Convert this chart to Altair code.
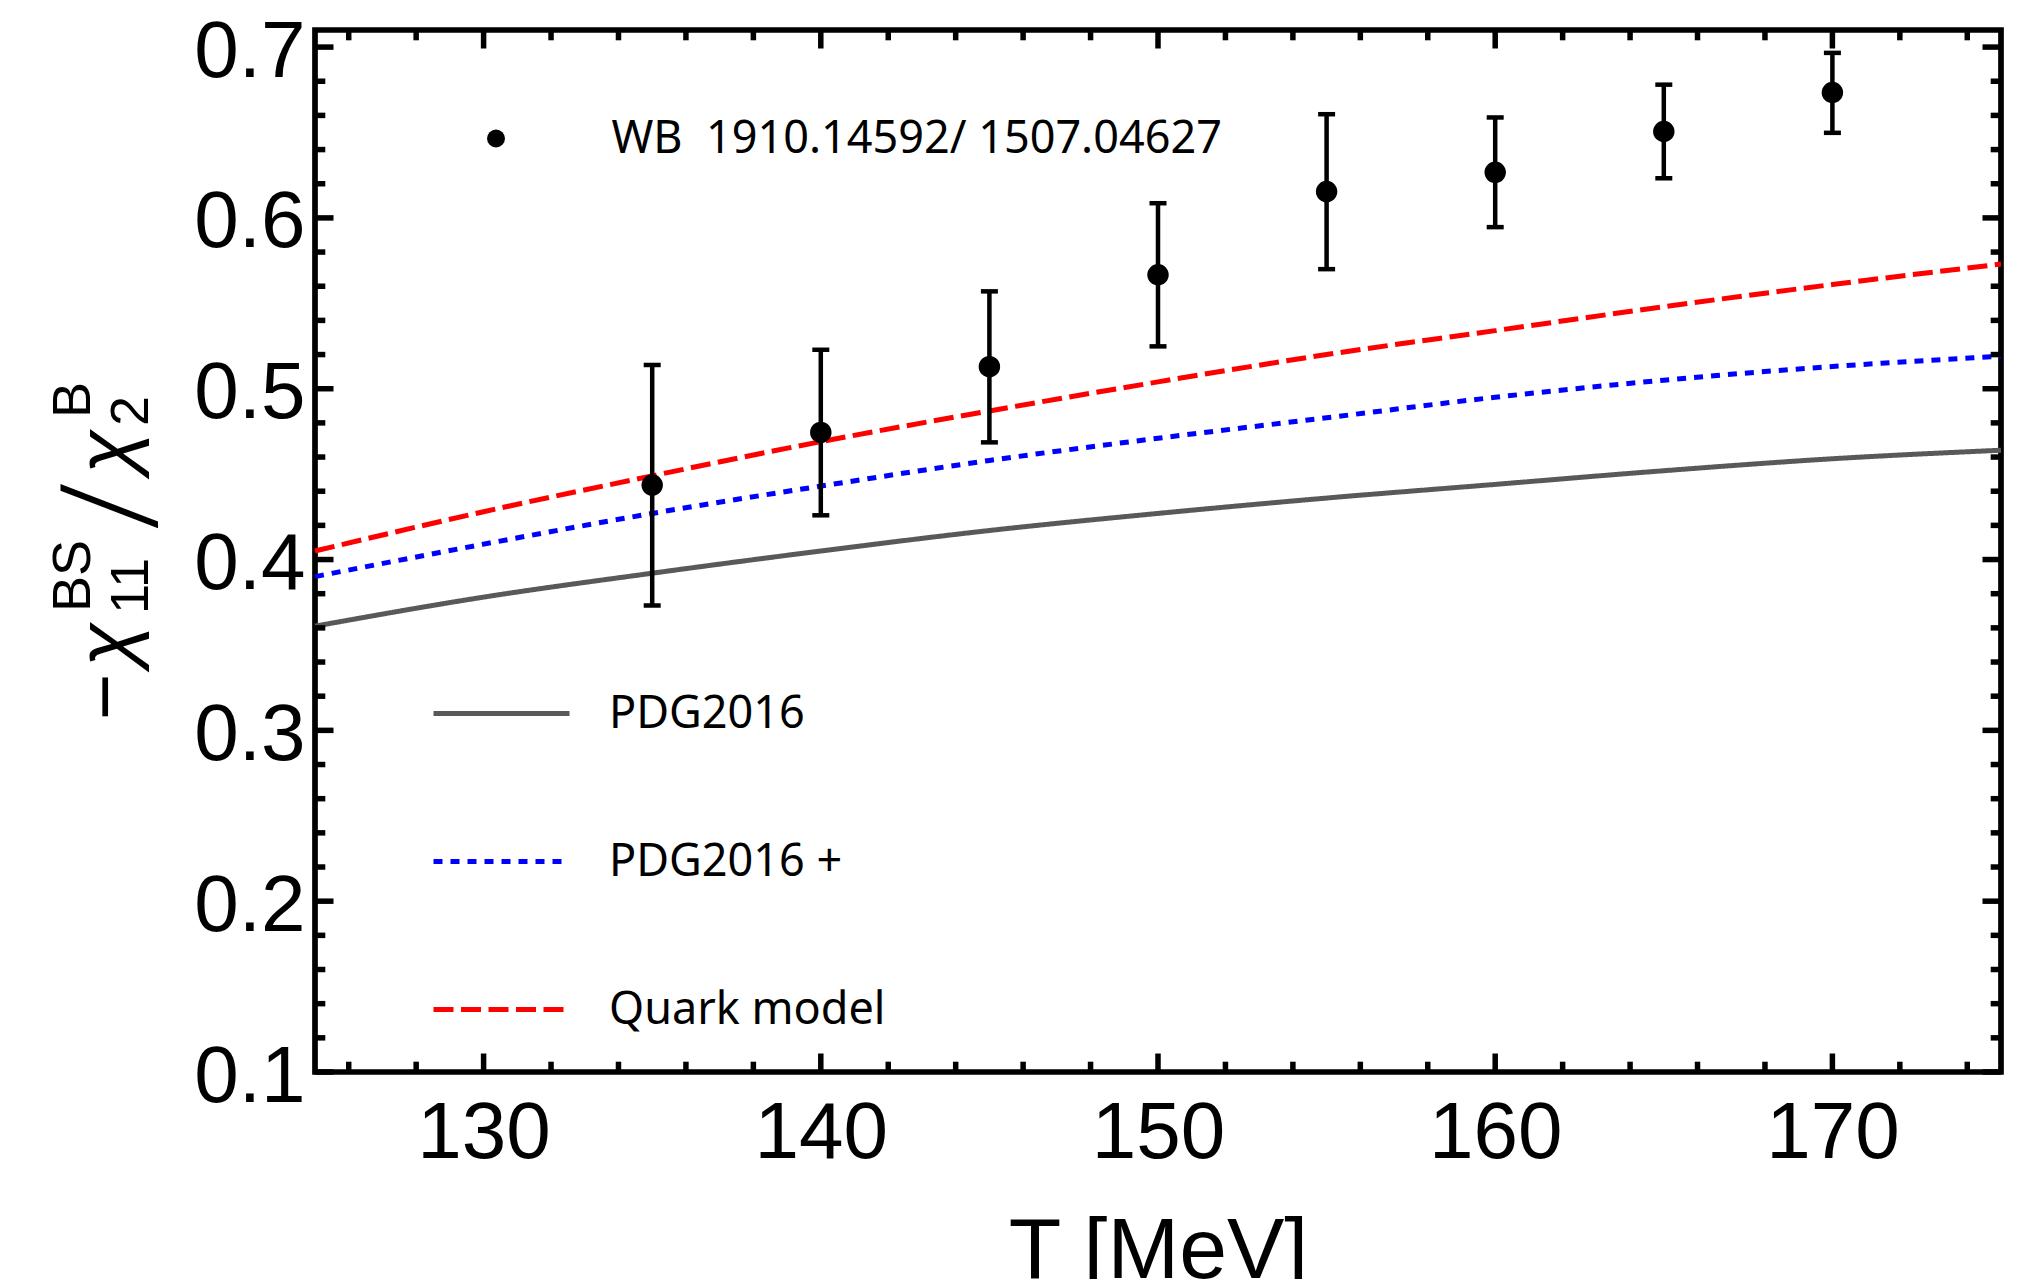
import altair as alt
import pandas as pd

# ---------------- data ----------------
T_model = [125, 130, 135, 140, 145, 150, 155, 160, 165, 170, 175]
pdg2016 = [0.361, 0.378, 0.392, 0.405, 0.417, 0.427, 0.436, 0.444, 0.452, 0.459, 0.464]
pdg2016_plus = [0.390, 0.409, 0.427, 0.443, 0.458, 0.471, 0.483, 0.495, 0.505, 0.513, 0.519]
quark_model = [0.405, 0.428, 0.449, 0.469, 0.487, 0.504, 0.520, 0.534, 0.548, 0.561, 0.573]

T_wb = [135, 140, 145, 150, 155, 160, 165, 170]
wb_val = [0.4436, 0.4744, 0.5129, 0.5667, 0.6154, 0.6267, 0.6506, 0.6734]
wb_hi = [0.5139, 0.5228, 0.5570, 0.6086, 0.6607, 0.6588, 0.6780, 0.6966]
wb_lo = [0.3731, 0.4259, 0.4686, 0.5248, 0.5700, 0.5946, 0.6232, 0.6498]

series_names = ["PDG2016", "PDG2016 +", "Quark model"]
wb_label = "WB\u00a0 1910.14592/ 1507.04627"

x_major = [130, 140, 150, 160, 170]
x_minor = [t for t in range(126, 176, 2) if t % 10 != 0]
y_major = [0.1, 0.2, 0.3, 0.4, 0.5, 0.6, 0.7]
y_minor = [round(0.1 + 0.02 * i, 2) for i in range(1, 31) if i % 5 != 0]

x_title = "T [MeV]"

# ---------------- styles / layout ----------------
series_colors = ["#595959", "#0000ff", "#ff0000"]
series_dash = [[1, 0], [9, 8], [20, 7.5]]
W, H = 1686, 1042
TICK_FONT = "Liberation Sans"
LEG_FONT = "Noto Sans"

df_lines = pd.DataFrame({
    "T": T_model * 3,
    "v": pdg2016 + pdg2016_plus + quark_model,
    "series": [series_names[0]] * len(T_model) + [series_names[1]] * len(T_model)
              + [series_names[2]] * len(T_model),
})
df_wb = pd.DataFrame({"T": T_wb, "v": wb_val, "lo": wb_lo, "hi": wb_hi,
                      "src": [wb_label] * len(T_wb)})
df_caps = pd.DataFrame({"T": T_wb + T_wb, "v": wb_lo + wb_hi})

x_scale = alt.Scale(domain=[125, 175], nice=False, zero=False)
y_scale = alt.Scale(domain=[0.1, 0.71], nice=False, zero=False)

x_axis = alt.Axis(values=x_major, format="d", labelFont=TICK_FONT, labelFontSize=80,
                  labelColor="black", labelBaseline="alphabetic", labelPadding=85,
                  labelFlush=False, labelOverlap=False,
                  ticks=False, tickSize=0, domain=False, grid=False,
                  title=x_title, titleFont=TICK_FONT, titleFontSize=86,
                  titleFontWeight="normal", titleColor="black",
                  titleBaseline="alphabetic", titleY=205)
y_axis = alt.Axis(values=y_major, format=".1f", labelFont=TICK_FONT, labelFontSize=80,
                  labelColor="black", labelPadding=10, labelOffset=5,
                  labelFlush=False, labelOverlap=False,
                  ticks=False, tickSize=0, domain=False, grid=False, title=None)

X = alt.X("T:Q", scale=x_scale, axis=x_axis)
Y = alt.Y("v:Q", scale=y_scale, axis=y_axis)

line_legend = alt.Legend(title=None, orient="none", legendX=116, legendY=613,
                         symbolType="stroke", symbolSize=18496, symbolStrokeWidth=5,
                         labelFont=LEG_FONT, labelFontSize=45, labelColor="black",
                         labelOffset=37, labelLimit=1000, rowPadding=54, padding=0)
wb_legend = alt.Legend(title=None, orient="none", legendX=158.5, legendY=86,
                       symbolSize=324, symbolFillColor="black", symbolStrokeColor="black",
                       symbolOpacity=1, symbolStrokeWidth=0,
                       labelFont=LEG_FONT, labelFontSize=45, labelColor="black",
                       labelOffset=93, labelLimit=1000, padding=0)

lines = alt.Chart(df_lines).mark_line(strokeWidth=5, interpolate="monotone").encode(
    x=X, y=Y,
    color=alt.Color("series:N", scale=alt.Scale(domain=series_names, range=series_colors),
                    legend=line_legend),
    strokeDash=alt.StrokeDash("series:N", scale=alt.Scale(domain=series_names, range=series_dash),
                              legend=line_legend),
)

errbars = alt.Chart(df_wb).mark_rule(strokeWidth=4.5, color="black").encode(
    x=X, y=alt.Y("lo:Q", scale=y_scale, axis=y_axis), y2="hi:Q")
caps = alt.Chart(df_caps).mark_tick(orient="horizontal", thickness=4.5, size=17,
                                    color="black", opacity=1).encode(x=X, y=Y)
points = alt.Chart(df_wb).mark_point(filled=True, size=460, opacity=1, color="black").encode(
    x=X, y=Y,
    shape=alt.Shape("src:N", scale=alt.Scale(domain=[wb_label], range=["circle"]),
                    legend=wb_legend))

# inward frame ticks
TW = 5.5
MAJ, MIN = 18.5, 10.3
dxM = pd.DataFrame({"T": x_major})
dxm = pd.DataFrame({"T": x_minor})
dyM = pd.DataFrame({"v": y_major})
dym = pd.DataFrame({"v": y_minor})
tick_layers = []
for d, L in ((dxM, MAJ), (dxm, MIN)):
    tick_layers.append(alt.Chart(d).mark_rule(strokeWidth=TW, color="black").encode(
        x=X, y=alt.value(H), y2=alt.value(H - L)))
    tick_layers.append(alt.Chart(d).mark_rule(strokeWidth=TW, color="black").encode(
        x=X, y=alt.value(0), y2=alt.value(L)))
for d, L in ((dyM, MAJ), (dym, MIN)):
    tick_layers.append(alt.Chart(d).mark_rule(strokeWidth=TW, color="black").encode(
        y=Y, x=alt.value(0), x2=alt.value(L)))
    tick_layers.append(alt.Chart(d).mark_rule(strokeWidth=TW, color="black").encode(
        y=Y, x=alt.value(W), x2=alt.value(W - L)))

# y-axis title built from pieces: (text, font, size, weight, italic, x, y)
one = pd.DataFrame({"k": [0]})
title_pieces = [
    ("\u2212", TICK_FONT, 80, 400, False, -183, 667),
    ("\u03c7", TICK_FONT, 80, 400, True, -183, 615),
    ("11", TICK_FONT, 54, 400, False, -167, 556),
    ("BS", TICK_FONT, 54, 400, False, -225, 546),
    ("/", "Roboto", 127, 300, False, -165, 475),
    ("\u03c7", TICK_FONT, 80, 400, True, -183, 422),
    ("2", TICK_FONT, 54, 400, False, -167, 381),
    ("B", TICK_FONT, 54, 400, False, -225, 370),
]
title_layers = []
for txt, fnt, fs, fw, it, px, py in title_pieces:
    kw = dict(text=txt, angle=270, align="center", baseline="alphabetic",
              font=fnt, fontSize=fs, fontWeight=fw, color="black")
    if it:
        kw["fontStyle"] = "italic"
    title_layers.append(alt.Chart(one).mark_text(**kw).encode(
        x=alt.value(px), y=alt.value(py)))

chart = alt.layer(lines, errbars, caps, points, *tick_layers, *title_layers).properties(
    width=W, height=H,
    autosize=alt.AutoSizeParams(type="none"),
    padding={"left": 307, "top": 22, "right": 9, "bottom": 207},
    background="white",
).configure_view(stroke="black", strokeWidth=5.7)

chart.save("out.html", embed_options={"renderer": "svg", "actions": False})
